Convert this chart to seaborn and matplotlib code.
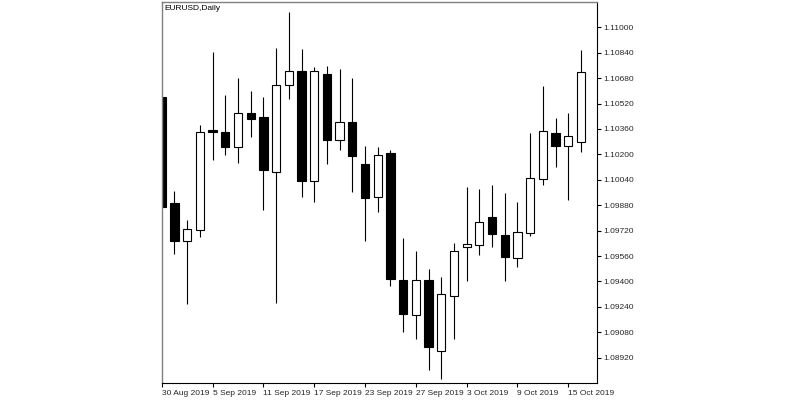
import numpy as np
import seaborn as sns
import matplotlib.pyplot as plt

# daily candles, 30 Aug 2019 .. 16 Oct 2019
dates = ["30 Aug", "2 Sep", "3 Sep", "4 Sep", "5 Sep", "6 Sep", "9 Sep", "10 Sep",
         "11 Sep", "12 Sep", "13 Sep", "16 Sep", "17 Sep", "18 Sep", "19 Sep", "20 Sep",
         "23 Sep", "24 Sep", "25 Sep", "26 Sep", "27 Sep", "30 Sep", "1 Oct", "2 Oct",
         "3 Oct", "4 Oct", "7 Oct", "8 Oct", "9 Oct", "10 Oct", "11 Oct", "14 Oct",
         "15 Oct", "16 Oct"]
opens = [1.10563, 1.09896, 1.09657, 1.09726, 1.10353, 1.10339, 1.10246, 1.10459,
         1.10433, 1.10091, 1.10635, 1.10725, 1.10031, 1.10708, 1.10291, 1.10402,
         1.10139, 1.09930, 1.10209, 1.09409, 1.09187, 1.09409, 1.08962, 1.09308,
         1.09617, 1.09628, 1.09808, 1.09692, 1.09546, 1.09703, 1.10045, 1.10333,
         1.10255, 1.10280]
highs = [1.10563, 1.09969, 1.09789, 1.10383, 1.10846, 1.10574, 1.10683, 1.10599,
         1.10559, 1.10872, 1.11098, 1.10863, 1.10750, 1.10758, 1.10739, 1.10679,
         1.10255, 1.10246, 1.10228, 1.09674, 1.09590, 1.09480, 1.09430, 1.09640,
         1.09993, 1.09982, 1.10007, 1.09959, 1.09900, 1.10336, 1.10629, 1.10429,
         1.10462, 1.10857]
lows = [1.09867, 1.09573, 1.09256, 1.09682, 1.10165, 1.10198, 1.10148, 1.10308,
        1.09850, 1.09262, 1.10551, 1.09930, 1.09900, 1.10138, 1.10226, 1.09961,
        1.09657, 1.09835, 1.09371, 1.09080, 1.09040, 1.08841, 1.08786, 1.09036,
        1.09405, 1.09565, 1.09615, 1.09405, 1.09489, 1.09686, 1.10005, 1.10121,
        1.09911, 1.10217]
closes = [1.09867, 1.09657, 1.09728, 1.10343, 1.10339, 1.10246, 1.10462, 1.10421,
          1.10102, 1.10637, 1.10725, 1.10034, 1.10725, 1.10291, 1.10402, 1.10188,
          1.09927, 1.10196, 1.09417, 1.09193, 1.09409, 1.08987, 1.09319, 1.09590,
          1.09634, 1.09772, 1.09701, 1.09552, 1.09709, 1.10049, 1.10347, 1.10255,
          1.10316, 1.10719]

price_ticks = ["1.08920", "1.09080", "1.09240", "1.09400", "1.09560", "1.09720", "1.09880",
               "1.10040", "1.10200", "1.10360", "1.10520", "1.10680", "1.10840", "1.11000"]
date_ticks = [0, 4, 8, 12, 16, 20, 24, 28, 32]
date_labels = ["30 Aug 2019", "5 Sep 2019", "11 Sep 2019", "17 Sep 2019", "23 Sep 2019",
               "27 Sep 2019", "3 Oct 2019", "9 Oct 2019", "15 Oct 2019"]

sns.set_style("white")
plt.rcParams['font.family'] = ['Liberation Sans', 'DejaVu Sans']

fig = plt.figure(figsize=(8, 4), dpi=100)
ax = fig.add_axes([0.2019, 0.04175, 0.5448, 0.954])

x = np.arange(len(opens))
o = np.array(opens)
c = np.array(closes)
up = c >= o
bottoms = np.minimum(o, c)
heights = np.maximum(np.abs(c - o), 0.00003)

# wicks then bodies (white = up day, black = down day)
ax.vlines(x, lows, highs, color="black", linewidth=0.8, zorder=1)
ax.bar(x, heights, bottom=bottoms, width=0.65,
       color=np.where(up, "white", "black"), edgecolor="black", linewidth=0.8, zorder=2)

ax.set_xlim(-0.02, 34.29)
ax.set_ylim(1.08759, 1.111612)

ax.yaxis.tick_right()
ax.set_yticks([float(t) for t in price_ticks])
ax.set_yticklabels(price_ticks)
ax.set_xticks(date_ticks)
ax.set_xticklabels(date_labels, ha="left")
ax.tick_params(axis="both", which="both", length=3, width=0.8, color="black",
               labelsize=6, direction="out")
ax.tick_params(axis="y", right=True, left=False, pad=1)
ax.tick_params(axis="x", bottom=True, pad=1.5)

for side in ["top", "left"]:
    ax.spines[side].set_color("#808080")
    ax.spines[side].set_linewidth(1)
for side in ["right", "bottom"]:
    ax.spines[side].set_color("black")
    ax.spines[side].set_linewidth(0.8)

ax.text(0.006, 0.992, "EURUSD,Daily", transform=ax.transAxes, fontsize=6,
        va="top", ha="left", color="black")

fig.savefig("out.png", dpi=100, facecolor="white")
